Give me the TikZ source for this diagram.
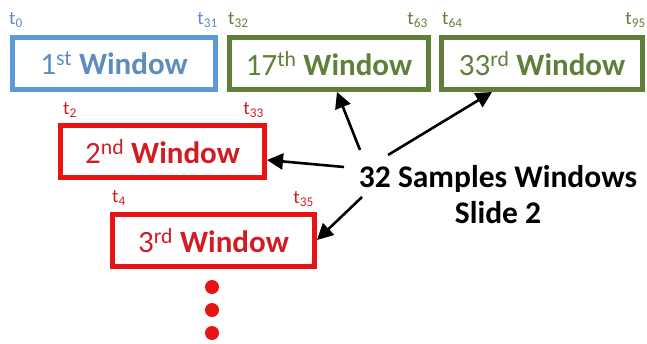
\documentclass[tikz,border=0pt]{standalone}
\usepackage{fontspec}
\setmainfont{Carlito}
\usetikzlibrary{arrows.meta}
\definecolor{bbord}{RGB}{91,155,213}
\definecolor{btext}{RGB}{95,140,190}
\definecolor{gbord}{RGB}{96,128,58}
\definecolor{gtext}{RGB}{96,128,58}
\definecolor{rbord}{RGB}{230,20,20}
\definecolor{rtext}{RGB}{210,28,35}
\tikzset{
  win/.style={draw, line width=5pt, minimum width=#1, minimum height=52pt, inner sep=0pt,
    font=\fontsize{31}{36}\selectfont},
  tlab/.style={font=\fontsize{19}{22}\selectfont, inner sep=0pt},
  ptr/.style={line width=2.6pt, -{Triangle[length=16pt,width=16pt]}},
  dotr/.style={circle, fill=rbord, minimum size=14pt, inner sep=0pt},
}
\newcommand{\tl}[1]{t\textsubscript{#1}}
\begin{document}
\begin{tikzpicture}[x=1pt,y=-1pt]
\useasboundingbox (0,0) rectangle (647,343);
% top row
\node[win=203pt, bbord, text=btext] (w1) at (114,63.5) {1\textsuperscript{st} \textbf{Window}};
\node[win=199pt, gbord, text=gtext] (w17) at (329,63.5) {17\textsuperscript{th} \textbf{Window}};
\node[win=201pt, gbord, text=gtext] (w33) at (542,63.5) {33\textsuperscript{rd} \textbf{Window}};
% second & third
\node[win=204pt, rbord, text=rtext] (w2) at (162.5,151.5) {2\textsuperscript{nd} \textbf{Window}};
\node[win=202pt, rbord, text=rtext] (w3) at (213.5,240.5) {3\textsuperscript{rd} \textbf{Window}};
% labels
\node[tlab, text=btext, anchor=west] (l0) at (9,20) {\tl{0}};
\node[tlab, text=btext, anchor=east] (l31) at (218,20) {\tl{31}};
\node[tlab, text=gtext, anchor=west] (l32) at (228,20) {\tl{32}};
\node[tlab, text=gtext, anchor=east] (l63) at (428,20) {\tl{63}};
\node[tlab, text=gtext, anchor=west] (l64) at (442,20) {\tl{64}};
\node[tlab, text=gtext, anchor=east] (l95) at (646,20) {\tl{95}};
\node[tlab, text=rtext, anchor=west] (l2) at (63,110) {\tl{2}};
\node[tlab, text=rtext, anchor=east] (l33) at (264,110) {\tl{33}};
\node[tlab, text=rtext, anchor=west] (l4) at (112,198) {\tl{4}};
\node[tlab, text=rtext, anchor=east] (l35) at (314,199) {\tl{35}};
% dots
\node[dotr] (d1) at (212,287) {};
\node[dotr] (d2) at (212,310) {};
\node[dotr] (d3) at (212,333) {};
% caption
\node[font=\fontsize{31.5}{36}\selectfont\bfseries, align=center, inner sep=0pt] (cap) at (498,195)
  {32 Samples Windows\\Slide 2};
% arrows
\coordinate (s2) at (344,167);
\coordinate (s17) at (360,150);
\coordinate (s33) at (388,155);
\coordinate (s3) at (362,197);
\coordinate (e17) at (337,92);
\coordinate (e33) at (492,92);
\coordinate (e2) at (267,160);
\coordinate (e3) at (317,240);
\draw[ptr] (s2) -- (e2);
\draw[ptr] (s17) -- (e17);
\draw[ptr] (s33) -- (e33);
\draw[ptr] (s3) -- (e3);
\end{tikzpicture}
\end{document}
